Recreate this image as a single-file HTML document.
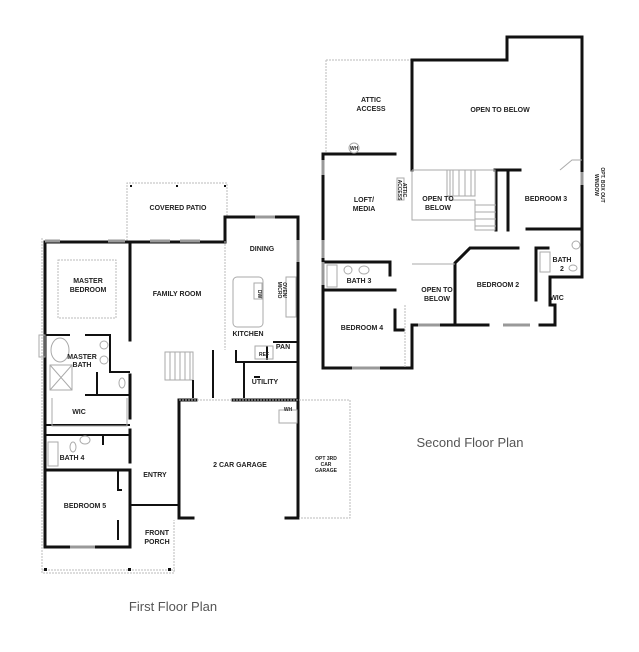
<!DOCTYPE html>
<html><head><style>
html,body{margin:0;padding:0;background:#fff;}
svg{display:block;}
text{font-family:"Liberation Sans",Arial,sans-serif;font-weight:bold;fill:#222;text-anchor:middle;}
.t{font-size:7px;}
.s{font-size:5px;}
.w{stroke:#111;stroke-width:3;fill:none;stroke-linecap:square;}
.n{stroke:#111;stroke-width:2;fill:none;}
.g{stroke:#bbb;stroke-width:1;fill:none;stroke-dasharray:2 1;}
.l{stroke:#aaa;stroke-width:1;fill:none;}
.win{stroke:#999;stroke-width:3;}
.title{font-size:13px;font-weight:normal;fill:#555;font-family:"Liberation Sans",Arial,sans-serif;}
</style></head><body>
<svg width="639" height="652" viewBox="0 0 639 652" xmlns="http://www.w3.org/2000/svg">
<!-- FIRST FLOOR -->
<!-- patio -->
<path class="g" d="M127 241 V183 H227 V217"/>
<rect x="130" y="185" width="2" height="2" fill="#111"/><rect x="176" y="185" width="2" height="2" fill="#111"/><rect x="224" y="185" width="2" height="2" fill="#111"/>
<!-- outer dashed -->
<path class="g" d="M42 238 V573 H174 V520"/>
<path class="g" d="M42 570 H175"/>
<rect x="44" y="568" width="3" height="3" fill="#111"/><rect x="128" y="568" width="3" height="3" fill="#111"/><rect x="168" y="568" width="3" height="3" fill="#111"/>
<path class="w" d="M45 242 H225 V217 H298 V518 H286"/>
<path class="w" d="M193 518 H179 V400 H196"/>
<path class="w" d="M233 400 H298"/>
<path class="w" d="M45 242 V547 H130 V470 H45"/>
<path class="w" d="M130 242 V340"/>
<path class="w" d="M130 375 V418"/>
<path class="w" d="M130 430 V462"/>
<path class="n" d="M130 490 V505 H179"/>
<path class="n" d="M118 470 V490 H122"/>
<path class="n" d="M118 520 V540"/>
<!-- master bath -->
<path class="n" d="M45 335 H70 M85 335 H110 V372 H130"/>
<path class="n" d="M97 372 V395 M85 395 H130"/>
<path class="n" d="M45 425 H130"/>
<path class="n" d="M45 435 H130 M103 435 V445"/>
<path class="l" d="M52 398 V426 H127 V398"/>
<rect x="50" y="365" width="22" height="25" class="l"/>
<path class="l" d="M50 365 L72 390 M72 365 L50 390"/>
<ellipse cx="60" cy="350" rx="9" ry="12" class="l"/>
<ellipse cx="104" cy="345" rx="4" ry="4" class="l"/><ellipse cx="104" cy="360" rx="4" ry="4" class="l"/>
<ellipse cx="122" cy="383" rx="3" ry="5" class="l"/>
<rect x="58" y="260" width="58" height="58" class="g"/>
<rect x="39" y="335" width="6" height="22" class="l"/>
<path class="win" d="M45 241 H60 M108 241 H125 M150 241 H170 M180 241 H200 M255 217 H275 M298 240 V262 M70 547 H95"/>
<ellipse cx="85" cy="440" rx="5" ry="4" class="l"/><rect x="48" y="442" width="10" height="24" class="l"/><ellipse cx="73" cy="447" rx="3" ry="5" class="l"/>
<!-- stairs -->
<path class="l" d="M165 352 H193 V380 H165 Z M170 352 V380 M175 352 V380 M180 352 V380 M185 352 V380 M190 352 V380"/>
<path class="n" d="M193 380 V398 M213 350 V398 M236 350 V362 H298 M244 362 V398"/>
<path class="n" d="M273 342 H298 M267 346 V360"/>
<path class="n" d="M254 377 H260"/>
<!-- kitchen island -->
<rect x="233" y="277" width="30" height="50" rx="4" class="l"/>
<rect x="254" y="283" width="8" height="16" class="l"/>
<rect x="286" y="277" width="10" height="40" class="l"/>
<rect x="255" y="346" width="18" height="13" class="l"/>
<rect x="279" y="410" width="18" height="13" class="l"/>
<path class="g" d="M225 241 V350 M179 400 H298 M299 400 H350 V518 H299"/>
<text class="t" x="178" y="210">COVERED PATIO</text>
<text class="t" x="262" y="251">DINING</text>
<text class="t" x="88" y="283">MASTER</text><text class="t" x="88" y="292">BEDROOM</text>
<text class="t" x="177" y="296">FAMILY ROOM</text>
<text class="t" x="248" y="336">KITCHEN</text>
<text class="s" x="264" y="356">REF</text>
<text class="t" x="283" y="349">PAN</text>
<text class="t" x="265" y="384">UTILITY</text>
<text class="s" x="288" y="411">WH</text>
<text class="s" transform="translate(258,294) rotate(90)">DW</text>
<text class="s" transform="translate(283,290) rotate(90)">OVEN/</text>
<text class="s" transform="translate(278,290) rotate(90)">MICRO</text>
<text class="t" x="82" y="359">MASTER</text><text class="t" x="82" y="367">BATH</text>
<text class="t" x="79" y="414">WIC</text>
<text class="t" x="72" y="460">BATH 4</text>
<text class="t" x="155" y="477">ENTRY</text>
<text class="t" x="240" y="467">2 CAR GARAGE</text>
<text class="s" x="326" y="460">OPT 3RD</text><text class="s" x="326" y="466">CAR</text><text class="s" x="326" y="472">GARAGE</text>
<text class="t" x="85" y="508">BEDROOM 5</text>
<text class="t" x="157" y="535">FRONT</text><text class="t" x="157" y="544">PORCH</text>
<text class="title" x="173" y="611">First Floor Plan</text>

<!-- SECOND FLOOR -->
<path class="g" d="M326 60 H412 M326 60 V152"/>
<path class="w" d="M412 170 V60 H507 V37 H582 V170"/>
<path class="w" d="M323 154 H395 M323 154 V368 H352 M380 368 H412 V325 H455"/>
<path class="w" d="M412 168 V170 M495 170 H520"/>
<path class="w" d="M496 170 V230 M508 230 V170 M496 230 V228"/>
<path class="w" d="M582 170 V277 H550 V305 H555 V325 H540 M445 325 H488"/>
<path class="w" d="M527 229 H582"/>
<path class="w" d="M455 325 V263 L470 248 H518"/>
<path class="w" d="M536 248 H548 M536 248 V300"/>
<path class="w" d="M323 262 H390 V275 M323 290 H395"/>
<path class="w" d="M395 310 V330 H403"/>
<path class="l" d="M412 170 H495 V230 H475 V200 H450 V170 M412 170 V220 H475"/>
<path class="l" d="M447 170 V196 H475 V170 M453 170 V196 M459 170 V196 M465 170 V196 M471 170 V196 M475 205 H496 M475 212 H496 M475 219 H496 M475 226 H496"/>
<path class="l" d="M412 264 H455"/>
<path class="l" d="M560 170 L572 160 H582"/>
<path class="win" d="M323 160 V175 M323 240 V258 M323 262 V285 M418 325 H440 M503 325 H530 M582 172 V185 M352 368 H380"/>
<rect x="397" y="178" width="7" height="22" class="l"/>
<rect x="540" y="252" width="10" height="20" class="l"/>
<rect x="327" y="265" width="10" height="22" class="l"/><ellipse cx="348" cy="270" rx="4" ry="4" class="l"/><ellipse cx="364" cy="270" rx="5" ry="4" class="l"/>
<ellipse cx="576" cy="245" rx="4" ry="4" class="l"/><ellipse cx="573" cy="268" rx="4" ry="3" class="l"/>
<circle cx="354" cy="148" r="5" class="l"/>
<path class="g" d="M405 305 V368"/>
<text class="t" x="371" y="102">ATTIC</text><text class="t" x="371" y="111">ACCESS</text>
<text class="t" x="500" y="112">OPEN TO BELOW</text>
<text class="s" x="354" y="150">WH</text>
<text class="t" x="364" y="202">LOFT/</text><text class="t" x="364" y="211">MEDIA</text>
<text class="s" transform="translate(403,190) rotate(90)">ATTIC</text>
<text class="s" transform="translate(398,190) rotate(90)">ACCESS</text>
<text class="t" x="438" y="201">OPEN TO</text><text class="t" x="438" y="210">BELOW</text>
<text class="t" x="546" y="201">BEDROOM 3</text>
<text class="s" transform="translate(601,185) rotate(90)">OPT. BOX OUT</text>
<text class="s" transform="translate(595,185) rotate(90)">WINDOW</text>
<text class="t" x="562" y="262">BATH</text><text class="t" x="562" y="271">2</text>
<text class="t" x="498" y="287">BEDROOM 2</text>
<text class="t" x="437" y="292">OPEN TO</text><text class="t" x="437" y="301">BELOW</text>
<text class="t" x="359" y="283">BATH 3</text>
<text class="t" x="557" y="300">WIC</text>
<text class="t" x="362" y="330">BEDROOM 4</text>
<text class="title" x="470" y="447">Second Floor Plan</text>
</svg>
</body></html>
